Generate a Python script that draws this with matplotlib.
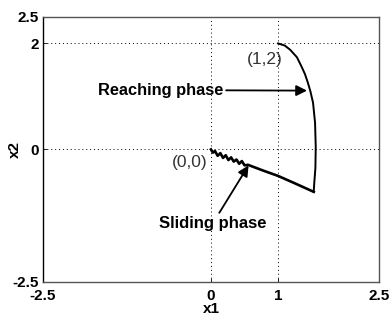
import matplotlib
matplotlib.use("Agg")
import matplotlib.pyplot as plt

plt.rcParams['font.family'] = ['Liberation Sans', 'DejaVu Sans']

# reaching phase: from (1,2) down to the sliding surface
reach_x = [1.0, 1.1, 1.18, 1.28, 1.35, 1.40, 1.44, 1.48, 1.52, 1.55, 1.56, 1.555, 1.54, 1.53]
reach_y = [2.0, 1.96, 1.88, 1.74, 1.56, 1.42, 1.27, 1.1, 0.88, 0.5, 0.05, -0.35, -0.6, -0.80]

# sliding phase: along the surface back to the origin, chattering near the end
slide_x = [1.53, 1.25, 1.0, 0.78, 0.55, 0.50, 0.46, 0.42, 0.38, 0.34, 0.30, 0.26, 0.22,
           0.18, 0.14, 0.10, 0.06, 0.03, 0.0]
slide_y = [-0.80, -0.64, -0.50, -0.40, -0.29, -0.30, -0.22, -0.27, -0.19, -0.23, -0.15,
           -0.20, -0.11, -0.16, -0.07, -0.12, -0.03, -0.06, 0.0]

xticks = [-2.5, 0, 1, 2.5]
yticks = [-2.5, 0, 2, 2.5]

fig = plt.figure(figsize=(3.91, 3.2), dpi=100)
ax = fig.add_axes([0.110, 0.119, 0.859, 0.828])

ax.plot(reach_x, reach_y, 'k-', lw=1.4)
ax.plot(slide_x, slide_y, 'k-', lw=1.9)

ax.set_xlim(-2.5, 2.5)
ax.set_ylim(-2.5, 2.5)
ax.set_xticks(xticks)
ax.set_yticks(yticks)
ax.set_xticklabels(['-2.5', '0', '1', '2.5'], fontsize=11, fontweight='bold')
ax.set_yticklabels(['-2.5', '0', '2', '2.5'], fontsize=11, fontweight='bold')
ax.tick_params(direction='in', length=3, width=0.6)
ax.tick_params(axis='x', pad=5)
ax.tick_params(axis='y', pad=3)
ax.grid(True, linestyle=(0, (1, 3)), color='k', lw=0.7)

for s in ax.spines.values():
    s.set_color('#555555')
    s.set_linewidth(1.0)
ax.spines['left'].set_color('k')

xl = ax.set_xlabel('x1', fontsize=11, fontweight='bold', va='center')
yl = ax.set_ylabel('x2', fontsize=11, fontweight='bold', va='center')
ax.xaxis.set_label_coords(0.5, -0.102)
ax.yaxis.set_label_coords(-0.083, 0.5)

ax.text(0.80, 1.69, '(1,2)', fontsize=12.5, color='#333333', ha='center', va='center')
ax.text(-0.31, -0.25, '(0,0)', fontsize=12.5, color='#333333', ha='center', va='center')

arrow = dict(arrowstyle='-|>', color='k', lw=1.3, mutation_scale=16, shrinkA=0, shrinkB=0)
ax.annotate('Reaching phase', xy=(1.43, 1.11), xytext=(-1.68, 1.12),
            fontsize=11.8, fontweight='bold', ha='left', va='center', arrowprops=arrow)
ax.annotate('Sliding phase', xy=(0.56, -0.30), xytext=(0.03, -1.39),
            fontsize=12, fontweight='bold', ha='center', va='center', arrowprops=arrow)

fig.savefig('out.png', dpi=100)
